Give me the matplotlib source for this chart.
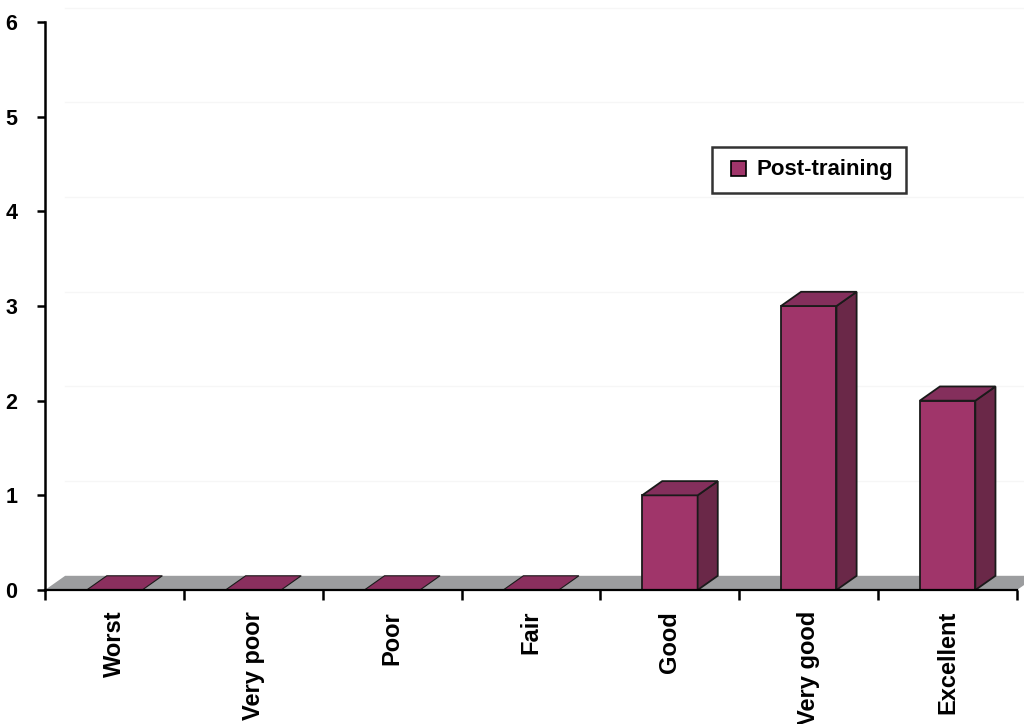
import matplotlib.pyplot as plt
from matplotlib.patches import Polygon
from matplotlib.lines import Line2D
import numpy as np

plt.rcParams['font.family'] = ['Liberation Sans', 'DejaVu Sans']
plt.rcParams['font.weight'] = 'bold'

categories = ["Worst", "Very poor", "Poor", "Fair", "Good", "Very good", "Excellent"]
post_training = [0, 0, 0, 0, 1, 3, 2]
yticks = [0, 1, 2, 3, 4, 5, 6]

front_col = "#a0356a"
side_col = "#6a2848"
top_col = "#842f5c"
floor_col = "#9c9d9f"

# depth of the fake 3d box, in data units
dx, dy = 0.145, 0.15
bar_w = 0.4

fig = plt.figure(figsize=(10.24, 7.24), dpi=100)
ax = fig.add_axes([45/1024, 1-590/724, (1017-45)/1024, (590-22)/724])
ax.set_xlim(0, len(categories))
ax.set_ylim(0, 6)

# faint back wall gridlines
for t in yticks[1:]:
    ax.plot([dx, len(categories)+dx], [t+dy, t+dy], color="#f6f6f6", lw=1, zorder=0, clip_on=False)

# floor
n = len(categories)
floor = Polygon([(0, 0), (n, 0), (n+dx, dy), (dx, dy)], closed=True,
                facecolor=floor_col, edgecolor="none", zorder=1, clip_on=False)
ax.add_patch(floor)

xc = np.arange(n) + 0.5
bars = ax.bar(xc, post_training, width=bar_w, color=front_col, edgecolor="#1a1a1a",
              linewidth=1.3, zorder=3, clip_on=False)

for b, h in zip(bars, post_training):
    x0 = b.get_x()
    x1 = x0 + b.get_width()
    if h > 0:
        side = Polygon([(x1, 0), (x1+dx, dy), (x1+dx, h+dy), (x1, h)], closed=True,
                       facecolor=side_col, edgecolor="#1a1a1a", lw=1.3, zorder=3, clip_on=False)
        ax.add_patch(side)
    top = Polygon([(x0, h), (x1, h), (x1+dx, h+dy), (x0+dx, h+dy)], closed=True,
                  facecolor=top_col if h > 0 else "#8a2f5e", edgecolor="#1a1a1a",
                  lw=1.3 if h > 0 else 0.8, zorder=3, clip_on=False)
    ax.add_patch(top)

for s in ["top", "right"]:
    ax.spines[s].set_visible(False)
ax.spines["left"].set_linewidth(1.8)
ax.spines["bottom"].set_linewidth(1.6)
ax.spines["bottom"].set_zorder(4)

ax.set_yticks(yticks)
ax.tick_params(axis="y", direction="out", length=6, width=1.8, pad=14, labelsize=15.5)
ax.set_xticks(np.arange(n+1))
ax.set_xticklabels([])
ax.tick_params(axis="x", which="major", direction="out", length=7, width=1.8)
ax.set_xticks(xc, minor=True)
ax.set_xticklabels(categories, minor=True, rotation=90, fontsize=17, fontweight="bold")
ax.tick_params(axis="x", which="minor", length=0, pad=15)

handle = Line2D([], [], linestyle="none", marker="s", markersize=10.8,
                markerfacecolor=front_col, markeredgecolor="black", markeredgewidth=1.2)
leg = ax.legend(handles=[handle], labels=["Post-training"], loc="upper left",
                bbox_to_anchor=(712/1024, 1-147/724), bbox_transform=fig.transFigure,
                borderaxespad=0, fancybox=False, frameon=True, fontsize=16,
                handlelength=1.2, handletextpad=0.25, borderpad=0.56)
leg.get_frame().set_edgecolor("black")
leg.get_frame().set_linewidth(1.8)
for t in leg.get_texts():
    t.set_fontweight("bold")

fig.savefig("out.png", dpi=100)
